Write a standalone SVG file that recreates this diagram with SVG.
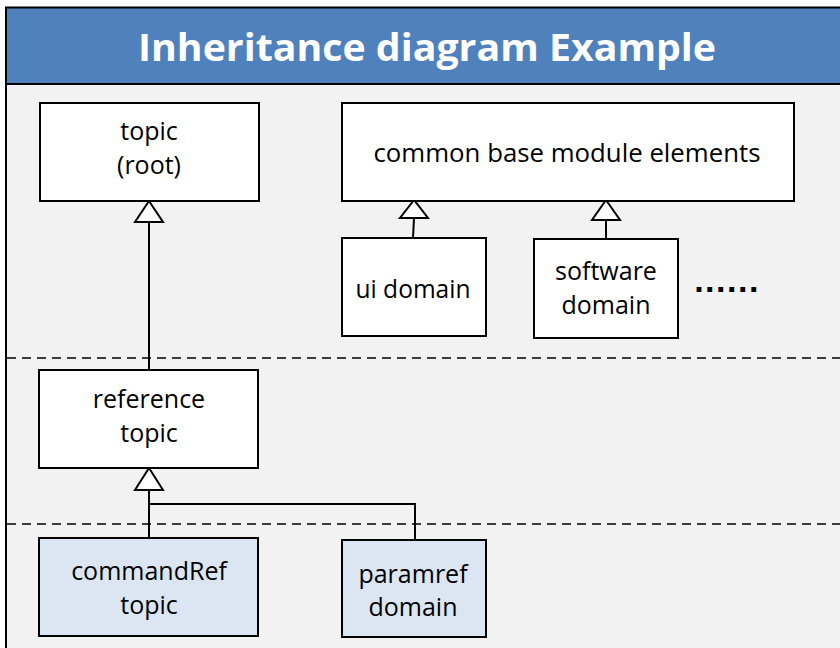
<svg xmlns="http://www.w3.org/2000/svg" width="840" height="648" viewBox="0 0 840 648">
<style>
.box{fill:#ffffff;stroke:#000;stroke-width:2}
.blue{fill:#DCE6F2;stroke:#000;stroke-width:2}
.t{font-family:"Open Sans","Liberation Sans",Arial,sans-serif;font-size:25px;fill:#000;text-anchor:middle}
.ln{fill:none;stroke:#000;stroke-width:2}
.tri{fill:#fff;stroke:#000;stroke-width:2;stroke-linejoin:miter}
.dash{stroke:#000;stroke-width:1.6;stroke-dasharray:9,6;fill:none}
</style>
<rect x="0" y="0" width="840" height="648" fill="#ffffff"/>
<rect x="6" y="84" width="834" height="564" fill="#F2F2F2"/>
<g id="header">
<rect x="6" y="8" width="834" height="76" fill="#4F81BD"/>
<line x1="5" y1="7.5" x2="840" y2="7.5" stroke="#000" stroke-width="2"/>
<line x1="5" y1="84" x2="840" y2="84" stroke="#000" stroke-width="2"/>
<text x="427" y="61" font-family="'Open Sans','Liberation Sans',sans-serif" font-weight="bold" font-size="37" fill="#fff" text-anchor="middle" textLength="578" lengthAdjust="spacingAndGlyphs">Inheritance diagram Example</text>
</g>
<line x1="6" y1="7" x2="6" y2="648" stroke="#000" stroke-width="2"/>
<g id="separators">
<line class="dash" x1="7" y1="358" x2="840" y2="358"/>
<line class="dash" x1="7" y1="524" x2="840" y2="524"/>
</g>
<g id="connectors">
<polyline class="ln" points="149,222 149,370"/>
<polygon class="tri" points="149,201 135,222 163,222"/>
<polyline class="ln" points="149,490 149,538"/>
<polyline class="ln" points="149,504 415,504 415,540"/>
<polygon class="tri" points="149,468 135,490 163,490"/>
<line class="ln" x1="414" y1="218" x2="413" y2="238"/>
<polygon class="tri" points="414,200 400,218 428,218"/>
<line class="ln" x1="606" y1="220" x2="606" y2="239"/>
<polygon class="tri" points="606,200 592,220 620,220"/>
</g>
<g id="topic-root">
<rect class="box" x="40" y="103" width="219" height="98"/>
<text class="t" x="149" y="140">topic</text>
<text class="t" x="149" y="174">(root)</text>
</g>
<g id="common-base">
<rect class="box" x="342" y="103" width="452" height="98"/>
<text class="t" x="567" y="162" textLength="387" lengthAdjust="spacingAndGlyphs">common base module elements</text>
</g>
<g id="ui-domain">
<rect class="box" x="342" y="238" width="144" height="98"/>
<text class="t" x="413" y="298" textLength="115" lengthAdjust="spacingAndGlyphs">ui domain</text>
</g>
<g id="software-domain">
<rect class="box" x="534" y="239" width="144" height="99"/>
<text class="t" x="606" y="280">software</text>
<text class="t" x="606" y="314">domain</text>
</g>
<g id="more">
<text x="727" y="292" font-family="'Liberation Sans',Arial,sans-serif" font-weight="bold" font-size="34" text-anchor="middle" fill="#000" letter-spacing="1.5">......</text>
</g>
<g id="reference-topic">
<rect class="box" x="39" y="370" width="219" height="98"/>
<text class="t" x="149" y="408">reference</text>
<text class="t" x="149" y="442">topic</text>
</g>
<g id="commandref-topic">
<rect class="blue" x="39" y="538" width="219" height="98"/>
<text class="t" x="149" y="580">commandRef</text>
<text class="t" x="149" y="614">topic</text>
</g>
<g id="paramref-domain">
<rect class="blue" x="342" y="540" width="144" height="97"/>
<text class="t" x="413" y="583">paramref</text>
<text class="t" x="413" y="616">domain</text>
</g>
</svg>
